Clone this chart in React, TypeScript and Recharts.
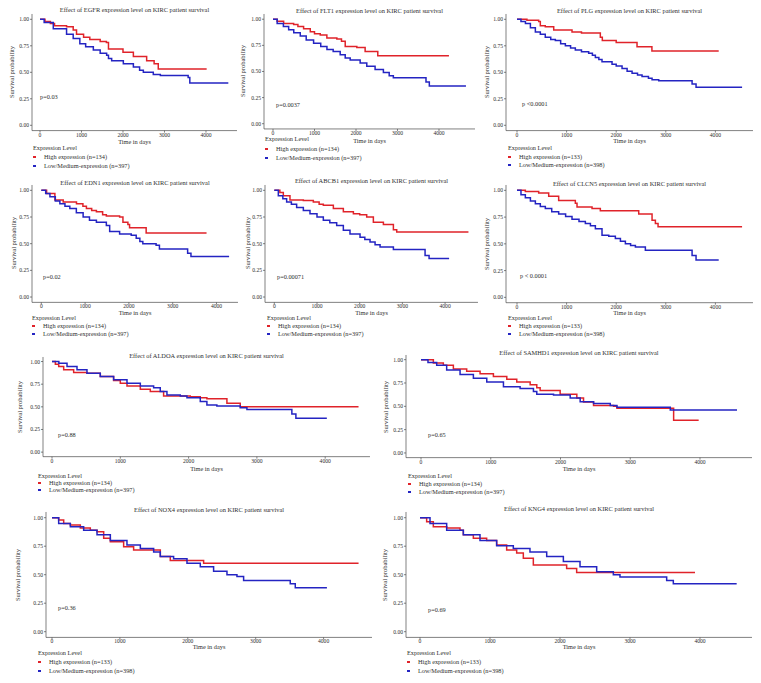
import React from 'react';
import { LineChart, Line, XAxis, YAxis } from 'recharts';

// ---------- data ----------
const xTicks = [0, 1000, 2000, 3000, 4000];
const yTicks = [0, 0.25, 0.5, 0.75, 1];
const genes = ['EGFR', 'FLT1', 'PLG', 'EDN1', 'ABCB1', 'CLCN5', 'ALDOA', 'SAMHD1', 'NOX4', 'KNG4'];
const pValues = ['p=0.03', 'p=0.0037', 'p <0.0001', 'p=0.02', 'p=0.00071', 'p < 0.0001', 'p=0.88', 'p=0.65', 'p=0.36', 'p=0.69'];
const highN = [134, 134, 133, 134, 134, 133, 134, 134, 133, 133];
const lowN = [397, 397, 398, 397, 397, 398, 397, 397, 398, 398];
const legendTitle = 'Expression Level';
const yAxisTitle = 'Survival probability';
const xAxisTitle = 'Time in days';

// [time in days, survival probability]
const egfrHigh = [[0, 1], [120, 0.98], [250, 0.96], [350, 0.94], [640, 0.93], [800, 0.9], [880, 0.86], [1050, 0.83], [1200, 0.81], [1450, 0.79], [1600, 0.78], [1650, 0.72], [2000, 0.69], [2250, 0.65], [2570, 0.61], [2750, 0.58], [2850, 0.53], [4016, 0.53]];
const egfrLow = [[0, 1], [100, 0.97], [320, 0.91], [640, 0.86], [800, 0.82], [960, 0.77], [1100, 0.74], [1285, 0.71], [1450, 0.68], [1606, 0.66], [1650, 0.63], [1727, 0.61], [2008, 0.58], [2250, 0.55], [2400, 0.52], [2490, 0.5], [2730, 0.48], [2900, 0.47], [3570, 0.45], [3610, 0.4], [4538, 0.4]];
const flt1High = [[0, 1], [100, 0.98], [256, 0.96], [497, 0.95], [600, 0.93], [737, 0.91], [898, 0.88], [1000, 0.86], [1138, 0.85], [1298, 0.82], [1539, 0.81], [1650, 0.79], [1740, 0.74], [2020, 0.73], [2220, 0.69], [2525, 0.65], [4240, 0.65]];
const flt1Low = [[0, 1], [100, 0.96], [250, 0.93], [377, 0.9], [500, 0.87], [657, 0.84], [800, 0.8], [978, 0.77], [1150, 0.74], [1300, 0.71], [1450, 0.69], [1619, 0.66], [1740, 0.63], [1860, 0.61], [2100, 0.58], [2260, 0.55], [2460, 0.52], [2660, 0.49], [2800, 0.46], [2900, 0.44], [3687, 0.4], [3767, 0.36], [4650, 0.36]];
const plgHigh = [[0, 1], [200, 0.99], [437, 0.98], [470, 0.94], [570, 0.93], [740, 0.9], [1109, 0.88], [1300, 0.87], [1680, 0.83], [1720, 0.8], [2000, 0.78], [2420, 0.74], [2720, 0.7], [4067, 0.7]];
const plgLow = [[0, 1], [80, 0.98], [170, 0.96], [270, 0.92], [370, 0.88], [470, 0.86], [570, 0.83], [680, 0.81], [773, 0.8], [880, 0.77], [975, 0.75], [1080, 0.73], [1176, 0.71], [1300, 0.695], [1445, 0.68], [1520, 0.66], [1580, 0.64], [1650, 0.62], [1714, 0.6], [1916, 0.575], [2000, 0.56], [2118, 0.535], [2220, 0.51], [2320, 0.49], [2430, 0.475], [2521, 0.46], [2650, 0.445], [2723, 0.43], [2857, 0.42], [3530, 0.39], [3610, 0.36], [4538, 0.36]];
const edn1High = [[0, 1], [121, 0.97], [310, 0.91], [500, 0.89], [803, 0.875], [950, 0.85], [1030, 0.83], [1150, 0.81], [1258, 0.8], [1400, 0.77], [1485, 0.76], [1788, 0.75], [1864, 0.7], [1977, 0.68], [2015, 0.65], [2394, 0.6], [3773, 0.6]];
const edn1Low = [[0, 1], [100, 0.97], [197, 0.94], [320, 0.9], [424, 0.875], [540, 0.85], [651, 0.83], [800, 0.79], [955, 0.75], [1100, 0.72], [1258, 0.7], [1485, 0.67], [1561, 0.615], [1788, 0.59], [2053, 0.58], [2167, 0.55], [2250, 0.52], [2318, 0.5], [2621, 0.485], [2697, 0.45], [3341, 0.41], [3417, 0.38], [4288, 0.38]];
const abcb1High = [[0, 1], [130, 0.98], [211, 0.95], [367, 0.91], [680, 0.905], [914, 0.89], [1050, 0.87], [1148, 0.86], [1383, 0.83], [1617, 0.8], [1852, 0.78], [2000, 0.77], [2164, 0.75], [2320, 0.7], [2555, 0.68], [2789, 0.63], [2867, 0.61], [4547, 0.61]];
const abcb1Low = [[0, 1], [94, 0.95], [200, 0.92], [289, 0.89], [400, 0.87], [523, 0.84], [680, 0.81], [836, 0.78], [1000, 0.75], [1148, 0.72], [1300, 0.695], [1461, 0.67], [1617, 0.625], [1773, 0.59], [2008, 0.56], [2120, 0.54], [2242, 0.515], [2360, 0.49], [2477, 0.47], [2789, 0.445], [3531, 0.39], [3625, 0.36], [4094, 0.36]];
const clcn5High = [[0, 1], [168, 0.99], [437, 0.975], [639, 0.945], [840, 0.905], [1176, 0.88], [1210, 0.845], [1513, 0.83], [1680, 0.81], [2454, 0.78], [2723, 0.72], [2790, 0.69], [2844, 0.66], [4538, 0.66]];
const clcn5Low = [[0, 1], [80, 0.96], [168, 0.93], [270, 0.9], [370, 0.875], [470, 0.85], [571, 0.83], [700, 0.8], [840, 0.78], [980, 0.755], [1109, 0.73], [1250, 0.71], [1378, 0.69], [1480, 0.67], [1580, 0.64], [1714, 0.58], [1850, 0.57], [1983, 0.55], [2085, 0.525], [2185, 0.5], [2290, 0.485], [2387, 0.47], [2588, 0.44], [3530, 0.39], [3610, 0.35], [4067, 0.35]];
const aldoaHigh = [[0, 1], [49, 0.97], [98, 0.945], [171, 0.91], [317, 0.88], [512, 0.87], [707, 0.835], [902, 0.79], [1000, 0.76], [1098, 0.73], [1293, 0.695], [1439, 0.67], [1634, 0.62], [2024, 0.61], [2171, 0.6], [2268, 0.59], [2561, 0.54], [2756, 0.5], [4488, 0.5]];
const aldoaLow = [[0, 1], [100, 0.98], [220, 0.945], [366, 0.91], [512, 0.87], [707, 0.835], [902, 0.8], [1098, 0.76], [1293, 0.73], [1488, 0.71], [1585, 0.67], [1683, 0.63], [1878, 0.62], [1976, 0.6], [2171, 0.56], [2268, 0.52], [2414, 0.51], [2756, 0.49], [2854, 0.47], [3512, 0.42], [3571, 0.375], [4024, 0.375]];
const samhd1High = [[0, 1], [177, 0.965], [320, 0.94], [464, 0.9], [655, 0.875], [847, 0.85], [1038, 0.82], [1230, 0.79], [1373, 0.76], [1565, 0.73], [1660, 0.7], [1708, 0.67], [1995, 0.63], [2234, 0.59], [2330, 0.545], [2474, 0.51], [2761, 0.5], [2809, 0.48], [3622, 0.35], [3981, 0.35]];
const samhd1Low = [[0, 1], [100, 0.97], [225, 0.94], [368, 0.89], [560, 0.84], [751, 0.8], [943, 0.76], [1182, 0.71], [1421, 0.69], [1612, 0.66], [1660, 0.63], [1900, 0.62], [2139, 0.59], [2282, 0.55], [2474, 0.53], [2713, 0.51], [2809, 0.49], [3574, 0.46], [4531, 0.46]];
const nox4High = [[0, 1], [98, 0.98], [172, 0.95], [270, 0.935], [417, 0.91], [564, 0.89], [663, 0.877], [761, 0.82], [859, 0.79], [1055, 0.745], [1202, 0.716], [1595, 0.66], [1742, 0.625], [2233, 0.6], [4515, 0.6]];
const nox4Low = [[0, 1], [98, 0.95], [270, 0.92], [466, 0.89], [663, 0.85], [859, 0.8], [1104, 0.76], [1301, 0.73], [1497, 0.7], [1595, 0.66], [1791, 0.64], [1988, 0.6], [2184, 0.57], [2380, 0.53], [2577, 0.5], [2724, 0.485], [2822, 0.45], [3509, 0.42], [3583, 0.385], [4049, 0.385]];
const kng4High = [[0, 1], [95, 0.965], [190, 0.92], [381, 0.91], [571, 0.89], [619, 0.85], [762, 0.82], [952, 0.8], [1095, 0.76], [1238, 0.716], [1381, 0.69], [1476, 0.645], [1619, 0.585], [2095, 0.555], [2238, 0.52], [3929, 0.52]];
const kng4Low = [[0, 1], [143, 0.95], [381, 0.89], [619, 0.85], [857, 0.8], [1095, 0.755], [1333, 0.73], [1571, 0.7], [1810, 0.66], [2048, 0.615], [2286, 0.57], [2524, 0.525], [2762, 0.5], [2857, 0.48], [3524, 0.45], [3619, 0.42], [4524, 0.42]];

const highCurves = [egfrHigh, flt1High, plgHigh, edn1High, abcb1High, clcn5High, aldoaHigh, samhd1High, nox4High, kng4High];
const lowCurves = [egfrLow, flt1Low, plgLow, edn1Low, abcb1Low, clcn5Low, aldoaLow, samhd1Low, nox4Low, kng4Low];

// ---------- layout (page pixels) ----------
type Lay = {
  x0: number; s: number; left: number; right: number; y1: number; y0: number;
  titleY: number; yLabX: number; timeY: number; legX: number; legY: number;
  it1: number; it2: number; pX: number; pY: number;
};
const layout: Lay[] = [
  { x0: 40, s: 41.5, left: 32, right: 237, y1: 19, y0: 125, titleY: 10, yLabX: 12, timeY: 141.5, legX: 33, legY: 148, it1: 157, it2: 166, pX: 40, pY: 97 },
  { x0: 273, s: 41.5, left: 264, right: 475, y1: 19, y0: 123.5, titleY: 11, yLabX: 243, timeY: 140.5, legX: 265, legY: 139, it1: 149, it2: 157.5, pX: 276, pY: 105 },
  { x0: 517, s: 49.6, left: 506, right: 753, y1: 19, y0: 125, titleY: 11, yLabX: 487, timeY: 141, legX: 508, legY: 148, it1: 156.5, it2: 165, pX: 522, pY: 104 },
  { x0: 41.3, s: 43.8, left: 32, right: 238, y1: 190, y0: 296.7, titleY: 183, yLabX: 14, timeY: 313, legX: 32, legY: 317.5, it1: 325.5, it2: 333.5, pX: 43, pY: 277 },
  { x0: 274.3, s: 42.7, left: 265, right: 478, y1: 190, y0: 296.7, titleY: 181, yLabX: 248, timeY: 312.5, legX: 267, legY: 317.5, it1: 325.5, it2: 333.8, pX: 277, pY: 277 },
  { x0: 517, s: 49.6, left: 506, right: 753, y1: 190, y0: 297, titleY: 184, yLabX: 487, timeY: 312.8, legX: 508, legY: 317.8, it1: 325.5, it2: 333.5, pX: 520, pY: 276 },
  { x0: 52, s: 68.3, left: 43, right: 370, y1: 361.7, y0: 452.3, titleY: 356, yLabX: 20, timeY: 469, legX: 38, legY: 475.7, it1: 482.5, it2: 490.2, pX: 58, pY: 435 },
  { x0: 421, s: 69.75, left: 406, right: 752, y1: 360, y0: 453.3, titleY: 353.3, yLabX: 386, timeY: 468.5, legX: 408, legY: 476, it1: 483.5, it2: 491.8, pX: 428, pY: 435 },
  { x0: 52, s: 67.9, left: 46, right: 372, y1: 517.7, y0: 631.7, titleY: 509.5, yLabX: 18, timeY: 647.3, legX: 38, legY: 653, it1: 661.8, it2: 670.8, pX: 58, pY: 608 },
  { x0: 420, s: 70, left: 406, right: 752, y1: 517.7, y0: 631.7, titleY: 509.3, yLabX: 385, timeY: 647.3, legX: 407, legY: 653, it1: 661.8, it2: 670.8, pX: 428, pY: 610 },
];

const RED = '#e0232a';
const BLUE = '#2424c2';
const TXT = '#2e2e2e';
const AXIS = '#4a4a4a';
const FONT = '"Liberation Serif", "Times New Roman", serif';

const toPts = (a: number[][]) => a.map(([t, s]) => ({ t, s }));

const txt = (x: number, y: number, content: string, size: number, anchor: 'left' | 'center', extra: React.CSSProperties = {}) => (
  <div
    style={{
      position: 'absolute',
      left: x,
      top: y,
      transform: anchor === 'center' ? 'translate(-50%, -50%)' : 'translateY(-50%)',
      fontFamily: FONT,
      fontSize: size,
      lineHeight: 1,
      color: TXT,
      whiteSpace: 'nowrap',
      ...extra,
    }}
  >
    {content}
  </div>
);

function Panel({ i }: { i: number }) {
  const L = layout[i];
  const span = L.y0 - L.y1;
  const top = L.y1 - 0.05 * span;
  const bottom = L.y0 + 0.05 * span;
  const xMin = ((L.left - L.x0) / L.s) * 1000;
  const xMax = ((L.right - L.x0) / L.s) * 1000;
  const W = 30;
  const mt = 3;
  const mr = 3;
  const XH = 10;
  const cw = W + (L.right - L.left) + mr;
  const ch = mt + (bottom - top) + XH;
  const cx = (L.left + L.right) / 2;
  const cy = (L.y0 + L.y1) / 2;
  const tickStyle = { fontSize: 5.6, fill: TXT, fontFamily: FONT };
  return (
    <>
      <div style={{ position: 'absolute', left: L.left - W, top: top - mt }}>
        <LineChart width={cw} height={ch} margin={{ top: mt, right: mr, left: 0, bottom: 0 }}>
          <XAxis
            type="number"
            dataKey="t"
            domain={[xMin, xMax]}
            ticks={xTicks}
            allowDataOverflow
            interval={0}
            height={XH}
            tickSize={2}
            tickMargin={0}
            stroke={AXIS}
            strokeWidth={0.7}
            tick={tickStyle}
          />
          <YAxis
            type="number"
            dataKey="s"
            domain={[-0.05, 1.05]}
            ticks={yTicks}
            allowDataOverflow
            interval={0}
            width={W}
            tickSize={2}
            tickMargin={1}
            stroke={AXIS}
            strokeWidth={0.7}
            tick={tickStyle}
            tickFormatter={(v: number) => v.toFixed(2)}
          />
          <Line data={toPts(highCurves[i])} dataKey="s" type="stepAfter" stroke={RED} strokeWidth={1.5} dot={false} isAnimationActive={false} />
          <Line data={toPts(lowCurves[i])} dataKey="s" type="stepAfter" stroke={BLUE} strokeWidth={1.5} dot={false} isAnimationActive={false} />
        </LineChart>
      </div>
      {txt(cx, L.titleY, `Effect of ${genes[i]} expression level on KIRC patient survival`, 6.4, 'center')}
      {txt(L.yLabX, cy, yAxisTitle, 6.5, 'center', { transform: 'translate(-50%, -50%) rotate(-90deg)' })}
      {txt(cx, L.timeY, xAxisTitle, 6.3, 'center')}
      {txt(L.pX, L.pY, pValues[i], 6.3, 'left')}
      {txt(L.legX, L.legY, legendTitle, 6.3, 'left')}
      <div style={{ position: 'absolute', left: Math.round(L.legX), top: Math.round(L.it1) - 1, width: 3, height: 2, background: RED }} />
      <div style={{ position: 'absolute', left: Math.round(L.legX), top: Math.round(L.it2) - 1, width: 3, height: 2, background: BLUE }} />
      {txt(L.legX + 11, L.it1, `High expression (n=${highN[i]})`, 6.3, 'left')}
      {txt(L.legX + 11, L.it2, `Low/Medium-expression (n=${lowN[i]})`, 6.3, 'left')}
    </>
  );
}

export default function App() {
  return (
    <div style={{ position: 'absolute', left: 0, top: 0, width: 761, height: 683, background: '#fff', overflow: 'hidden' }}>
      {genes.map((g, i) => (
        <Panel key={g} i={i} />
      ))}
    </div>
  );
}
